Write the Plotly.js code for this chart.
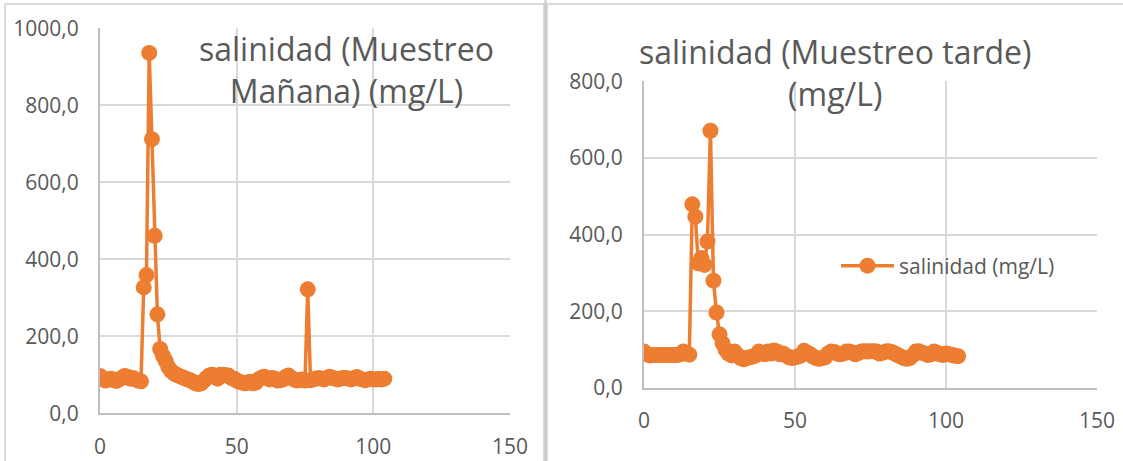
<!DOCTYPE html>
<html>
<head>
<meta charset="utf-8">
<script src="https://cdn.plot.ly/plotly-3.0.1.min.js"></script>
<style>html,body{margin:0;padding:0;background:#fff;}#chart{width:1123px;height:461px;}</style>
</head>
<body>
<div id="chart"></div>
<script>
// Muestra (índice) 0..104
const muestraManana = Array.from({length: 105}, (_, i) => i);
const muestraTarde = Array.from({length: 105}, (_, i) => i);

// salinidad (mg/L) — Muestreo Mañana
const salinidadManana = [
  97, 90, 85, 88, 90, 86, 84, 88, 92, 97,
  95, 90, 92, 88, 85, 83, 327, 359, 936, 712,
  461, 257, 167, 150, 136, 120, 110, 104, 100, 97,
  94, 91, 88, 86, 82, 78, 76, 78, 84, 92,
  98, 100, 96, 90, 100, 100, 99, 98, 92, 90,
  85, 82, 80, 78, 80, 82, 78, 80, 88, 92,
  95, 92, 88, 92, 90, 85, 86, 88, 95, 98,
  92, 88, 85, 86, 88, 85, 322, 86, 88, 90,
  92, 90, 88, 92, 95, 92, 90, 88, 90, 92,
  92, 90, 88, 92, 94, 90, 88, 86, 88, 90,
  88, 88, 90, 88, 90
];

// salinidad (mg/L) — Muestreo tarde
const salinidadTarde = [
  95, 88, 85, 86, 86, 86, 86, 86, 86, 86,
  86, 86, 88, 95, 90, 87, 479, 447, 325, 339,
  321, 382, 671, 280, 197, 140, 117, 100, 90, 85,
  95, 85, 78, 75, 78, 80, 82, 85, 95, 92,
  88, 95, 90, 98, 95, 88, 90, 85, 80, 78,
  80, 82, 85, 97, 92, 88, 82, 78, 76, 78,
  80, 90, 95, 94, 90, 88, 90, 95, 95, 92,
  88, 92, 95, 96, 95, 96, 96, 95, 90, 92,
  95, 96, 94, 90, 86, 82, 78, 76, 78, 85,
  95, 96, 92, 90, 86, 88, 95, 92, 88, 86,
  90, 88, 86, 84, 83
];

const tituloManana = 'salinidad (Muestreo<br>Mañana) (mg/L)';
const tituloTarde = 'salinidad (Muestreo tarde)<br>(mg/L)';
const nombreSerie = 'salinidad (mg/L)';

const W = 1123, H = 461;
const px = v => v / W;
const py = v => 1 - v / H;

const ORANGE = '#ED7D31';
const GRID = '#d9d9d9';
const AXIS = '#bfbfbf';
const TXT = '#595959';
const FONT = 'Open Sans, Noto Sans, sans-serif';

const traces = [
  {
    x: muestraManana, y: salinidadManana, xaxis: 'x', yaxis: 'y',
    type: 'scatter', mode: 'lines+markers', name: nombreSerie, showlegend: false,
    line: {color: ORANGE, width: 3.5}, marker: {color: ORANGE, size: 16}
  },
  {
    x: muestraTarde, y: salinidadTarde, xaxis: 'x2', yaxis: 'y2',
    type: 'scatter', mode: 'lines+markers', name: nombreSerie, showlegend: true,
    line: {color: ORANGE, width: 3.5}, marker: {color: ORANGE, size: 16}
  }
];

const xCommon = {
  range: [0, 150], dtick: 50, tick0: 0, showgrid: true, gridcolor: GRID, gridwidth: 2,
  zeroline: false, showline: true, linecolor: AXIS, linewidth: 2, ticks: '',
  ticklabelstandoff: 13, tickfont: {family: FONT, size: 21, color: TXT}, fixedrange: true
};
const yCommon = {
  dtick: 200, tick0: 0, tickformat: '.1f', showgrid: true, gridcolor: GRID, gridwidth: 2,
  zeroline: false, showline: true, linecolor: AXIS, linewidth: 2, ticks: '',
  ticklabelstandoff: 15, tickfont: {family: FONT, size: 21, color: TXT}, fixedrange: true
};

const layout = {
  width: W, height: H,
  margin: {l: 0, r: 0, t: 0, b: 0},
  paper_bgcolor: '#ffffff', plot_bgcolor: 'rgba(0,0,0,0)',
  separators: ',.',
  font: {family: FONT, color: TXT},
  xaxis: Object.assign({}, xCommon, {domain: [px(100), px(510)], anchor: 'y'}),
  yaxis: Object.assign({}, yCommon, {domain: [py(413.3), py(28.3)], range: [0, 1000], anchor: 'x'}),
  xaxis2: Object.assign({}, xCommon, {domain: [px(644), px(1097)], anchor: 'y2'}),
  yaxis2: Object.assign({}, yCommon, {domain: [py(388), py(81.3)], range: [0, 800], anchor: 'x2'}),
  showlegend: true,
  legend: {
    x: px(836), y: py(266), xanchor: 'left', yanchor: 'middle',
    bgcolor: 'rgba(0,0,0,0)', borderwidth: 0,
    font: {family: FONT, size: 21, color: TXT}, itemwidth: 53
  },
  annotations: [
    {text: tituloManana, xref: 'paper', yref: 'paper', x: px(346), y: py(70), xanchor: 'center', yanchor: 'middle',
     showarrow: false, font: {family: FONT, size: 32, color: TXT}, align: 'center'},
    {text: tituloTarde, xref: 'paper', yref: 'paper', x: px(835), y: py(72), xanchor: 'center', yanchor: 'middle',
     showarrow: false, font: {family: FONT, size: 32, color: TXT}, align: 'center'}
  ],
  shapes: [
    {type: 'rect', xref: 'paper', yref: 'paper', x0: px(5), x1: px(544), y0: py(475), y1: py(4),
     line: {color: '#d0d0d0', width: 1.5}, layer: 'below'},
    {type: 'rect', xref: 'paper', yref: 'paper', x0: px(547), x1: px(1135), y0: py(475), y1: py(4),
     line: {color: '#d0d0d0', width: 1.5}, layer: 'below'},
    {type: 'line', xref: 'paper', yref: 'paper', x0: px(545.5), x1: px(545.5), y0: py(475), y1: py(0),
     line: {color: '#c8c8c8', width: 2}, layer: 'below'}
  ]
};

Plotly.newPlot('chart', traces, layout, {displayModeBar: false, staticPlot: true});
</script>
</body>
</html>
